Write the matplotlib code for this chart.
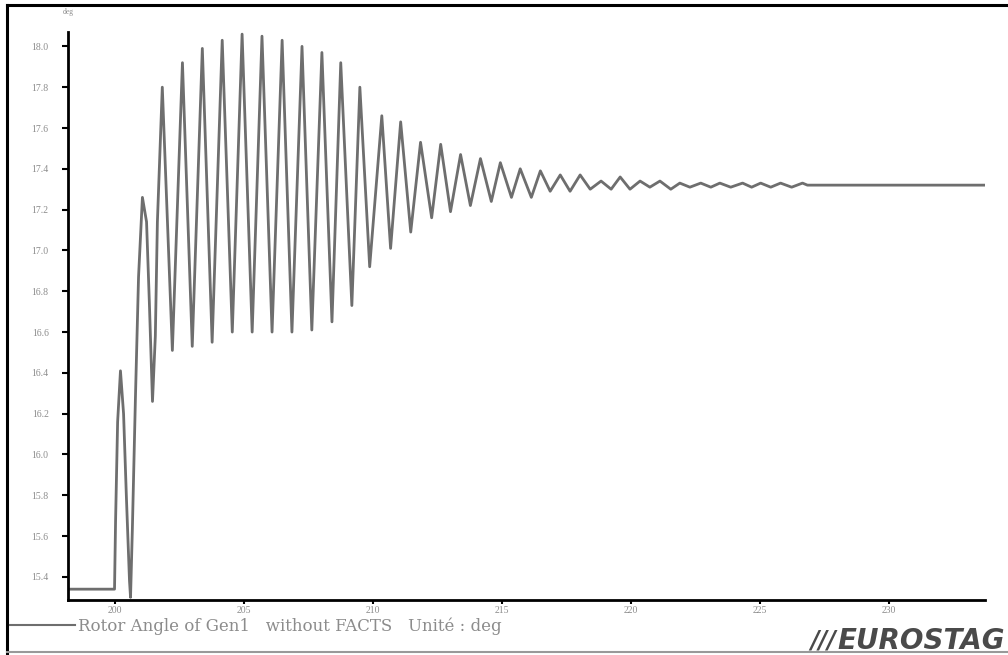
import matplotlib
matplotlib.use("Agg")
from matplotlib import pyplot as plt
from matplotlib.lines import Line2D

# rotor angle of Gen1 (time in s, angle in deg)
time_s = [198.26, 200.00, 200.04, 200.12, 200.23, 200.35, 200.46, 200.58, 200.62,
          200.69, 200.81, 200.93, 201.08, 201.24, 201.35, 201.47, 201.58, 201.66,
          201.85, 202.24, 202.63, 203.01, 203.40, 203.78, 204.17, 204.56, 204.94,
          205.33, 205.71, 206.10, 206.49, 206.87, 207.26, 207.64, 208.03, 208.42,
          208.76, 209.19, 209.50, 209.88, 210.35, 210.69, 211.08, 211.47, 211.85,
          212.28, 212.63, 213.01, 213.40, 213.78, 214.17, 214.59, 214.94, 215.37,
          215.71, 216.14, 216.49, 216.87, 217.26, 217.64, 218.03, 218.42, 218.84,
          219.23, 219.58, 219.96, 220.35, 220.73, 221.12, 221.54, 221.89, 222.28,
          222.70, 223.09, 223.44, 223.86, 224.32, 224.67, 225.02, 225.41, 225.79,
          226.22, 226.64, 226.83, 233.71]
angle_deg = [15.34, 15.34, 15.67, 16.16, 16.41, 16.20, 15.79, 15.38, 15.30,
             15.63, 16.28, 16.87, 17.26, 17.14, 16.74, 16.26, 16.58, 17.14,
             17.80, 16.51, 17.92, 16.53, 17.99, 16.55, 18.03, 16.60, 18.06,
             16.60, 18.05, 16.60, 18.03, 16.60, 18.00, 16.61, 17.97, 16.65,
             17.92, 16.73, 17.80, 16.92, 17.66, 17.01, 17.63, 17.09, 17.53,
             17.16, 17.52, 17.19, 17.47, 17.22, 17.45, 17.24, 17.43, 17.26,
             17.40, 17.26, 17.39, 17.29, 17.37, 17.29, 17.37, 17.30, 17.34,
             17.30, 17.36, 17.30, 17.34, 17.31, 17.34, 17.30, 17.33, 17.31,
             17.33, 17.31, 17.33, 17.31, 17.33, 17.31, 17.33, 17.31, 17.33,
             17.31, 17.33, 17.32, 17.32]

xticks = [200, 205, 210, 215, 220, 225, 230]
yticks = [15.4, 15.6, 15.8, 16.0, 16.2, 16.4, 16.6, 16.8, 17.0, 17.2, 17.4, 17.6, 17.8, 18.0]

line_col = "#6e6e6e"
txt_col = "#8c8c8c"

fig = plt.figure(figsize=(10.08, 6.55), dpi=100)
ax = fig.add_axes([0.0675, 0.084, 0.9095, 0.867])

ax.plot(time_s, angle_deg, color=line_col, lw=2)

ax.set_xlim(198.2, 233.7)
ax.set_ylim(15.287, 18.07)
ax.set_xticks(xticks)
ax.set_xticklabels([str(v) for v in xticks])
ax.set_yticks(yticks)
ax.set_yticklabels(["%.1f" % v for v in yticks])
ax.tick_params(axis="both", direction="out", length=4, width=1.5, color="black",
               labelsize=7, labelcolor=txt_col, pad=1)
for lab in ax.get_xticklabels() + ax.get_yticklabels():
    lab.set_family("Liberation Serif")
ax.tick_params(axis="x", length=3)
ax.tick_params(axis="y", pad=10)

for s in ["top", "right"]:
    ax.spines[s].set_visible(False)
for s in ["left", "bottom"]:
    ax.spines[s].set_linewidth(2)
    ax.spines[s].set_color("black")

# unit above axis
fig.text(68 / 1008, 1 - 12 / 655, "deg", fontsize=5.5, color=txt_col,
         family="Liberation Serif", ha="center", va="center")

# frame around the plot
fig.add_artist(Line2D([7 / 1008, 7 / 1008], [0.0, 1 - 5 / 655], color="black", lw=2.2))
fig.add_artist(Line2D([7 / 1008, 1.0], [1 - 5 / 655, 1 - 5 / 655], color="black", lw=2.2))
fig.add_artist(Line2D([7 / 1008, 1.0], [1 - 652 / 655, 1 - 652 / 655], color="#999999", lw=1.5))

# legend
fig.add_artist(Line2D([10 / 1008, 75 / 1008], [1 - 625 / 655, 1 - 625 / 655], color=line_col, lw=1.5))
fig.text(78 / 1008, 1 - 626 / 655, "Rotor Angle of Gen1   without FACTS   Unité : deg",
         fontsize=12, color=txt_col, family="DejaVu Serif", ha="left", va="center")

# logo
fig.text(836 / 1008, 1 - 641 / 655, "///", fontsize=17, color="#4a4a4a",
         family="DejaVu Sans", weight="bold", style="italic", ha="right", va="center")
fig.text(1005 / 1008, 1 - 641 / 655, "EUROSTAG", fontsize=20, color="#4a4a4a",
         family="DejaVu Sans", weight="bold", style="italic", ha="right", va="center")

fig.savefig("out.png", dpi=100)
